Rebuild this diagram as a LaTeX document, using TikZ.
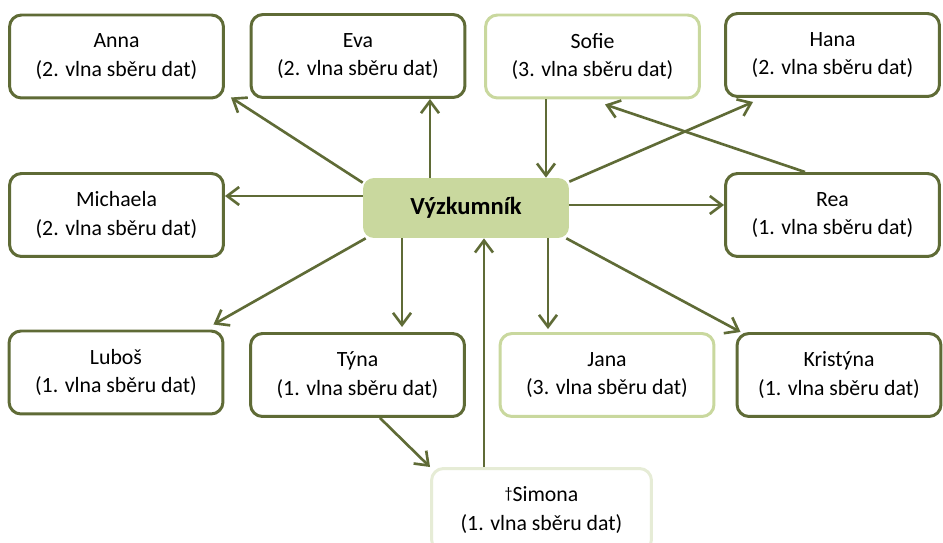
\documentclass[tikz,border=0pt]{standalone}
\usepackage{fontspec}
\setmainfont{Carlito}
\usetikzlibrary{arrows.meta,positioning}

\definecolor{olivedark}{HTML}{5F6B36}
\definecolor{olivelight}{HTML}{C9D89E}
\definecolor{olivepale}{HTML}{E6ECD6}

\tikzset{
  person/.style={draw=olivedark, line width=1.7pt, rounded corners=0.24cm,
    fill=white, minimum width=4.28cm, minimum height=1.66cm, align=center,
    inner sep=0pt, font=\fontsize{12.4}{16.4}\selectfont},
  newperson/.style={person, draw=olivelight},
  paleperson/.style={person, draw=olivepale},
  researcher/.style={fill=olivelight, rounded corners=0.22cm,
    minimum width=4.12cm, minimum height=1.2cm,
    font=\fontsize{14}{16}\selectfont\bfseries},
  arr/.style={draw=olivedark, line width=1.5pt,
    -{Straight Barb[length=0.24cm,width=0.36cm]}},
}

\begin{document}
\begin{tikzpicture}[x=0.02cm, y=-0.02cm]
\useasboundingbox (0,0) rectangle (943,543);

% researcher
\node[researcher] (c) at (466,208) {Výzkumník};

% participants
\node[person] (anna) at (116.5,56.5) {Anna\\(2. vlna sběru dat)};
\node[person] (eva) at (358,56) {Eva\\(2. vlna sběru dat)};
\node[newperson] (sofie) at (592.5,56.5) {Sofie\\(3. vlna sběru dat)};
\node[person] (hana) at (832.5,55) {Hana\\(2. vlna sběru dat)};
\node[person] (michaela) at (116.5,215) {Michaela\\(2. vlna sběru dat)};
\node[person] (rea) at (832.5,215) {Rea\\(1. vlna sběru dat)};
\node[person] (lubos) at (116,372.5) {Luboš\\(1. vlna sběru dat)};
\node[person] (tyna) at (357.5,375) {Týna\\(1. vlna sběru dat)};
\node[newperson] (jana) at (607,375) {Jana\\(3. vlna sběru dat)};
\node[person, minimum width=4.08cm] (kristyna) at (839,375) {Kristýna\\(1. vlna sběru dat)};
\node[paleperson, minimum width=4.4cm] (simona) at (541.5,510)
  {{\fontsize{9}{9}\selectfont\raisebox{0.45ex}{†}}Simona\\(1. vlna sběru dat)};

% connections
\draw[arr] ([yshift=-0.1cm]c.north west) -- ([xshift=0.12cm,yshift=0.04cm]anna.south east);
\draw[arr] ([xshift=-0.72cm]c.north) -- ([xshift=-0.72cm]c.north |- eva.south);
\draw[arr] ([xshift=1.6cm]c.north |- sofie.south) -- ([xshift=1.6cm]c.north);
\draw[arr] ([yshift=-0.08cm]c.north east) -- ([xshift=0.58cm,yshift=-0.08cm]hana.south west);
\draw[arr] ([xshift=-0.55cm]rea.north) -- ([xshift=0.25cm,yshift=-0.1cm]sofie.south);
\draw[arr] ([yshift=0.24cm]c.west) -- ([yshift=0.24cm]c.west -| michaela.east);
\draw[arr] ([yshift=0.06cm]c.east) -- ([yshift=0.06cm]c.east -| rea.west);
\draw[arr] ([xshift=0.06cm]c.south west) -- ([xshift=-0.22cm,yshift=0.1cm]lubos.north east);
\draw[arr] ([xshift=-1.28cm]c.south) -- ([xshift=-1.28cm,yshift=0.1cm]c.south |- tyna.north);
\draw[arr] ([xshift=1.64cm]c.south) -- ([xshift=1.64cm,yshift=0.06cm]c.south |- jana.north);
\draw[arr] ([xshift=-0.06cm]c.south east) -- ([xshift=0.1cm]kristyna.north west);
\draw[arr] ([xshift=0.36cm]c.south |- simona.north) -- ([xshift=0.36cm]c.south);
\draw[arr] ([xshift=0.45cm]tyna.south) -- (simona.north west);
\end{tikzpicture}
\end{document}
